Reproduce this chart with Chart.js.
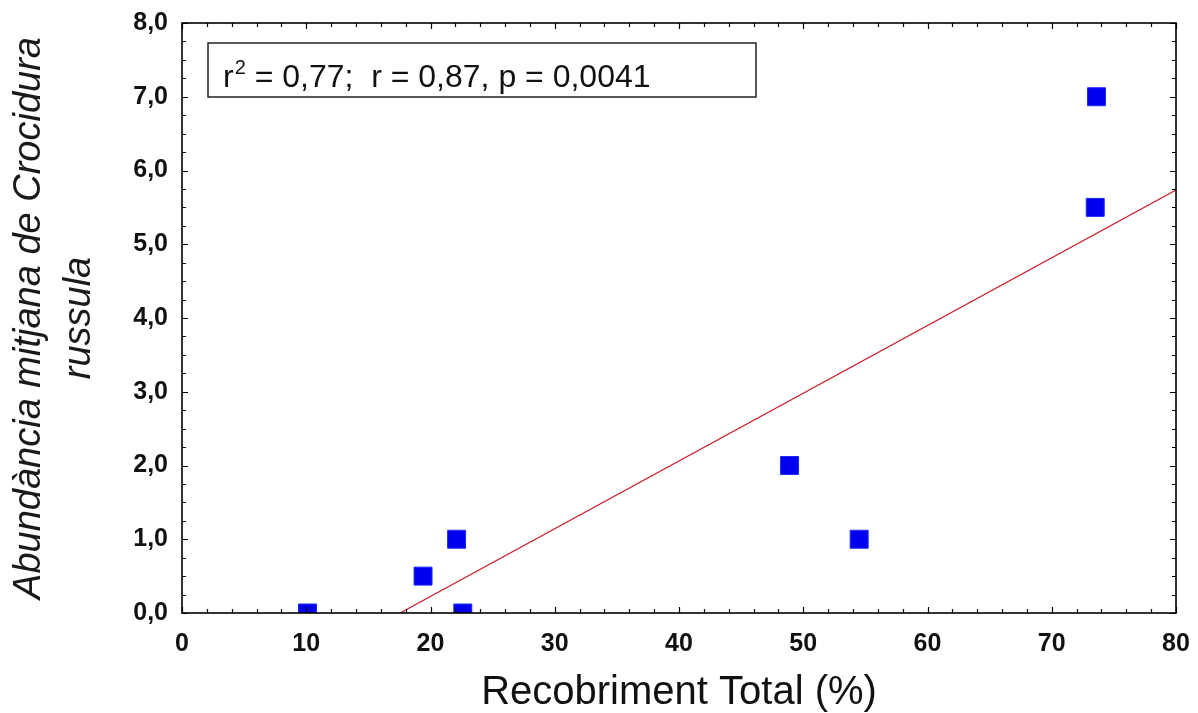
<!DOCTYPE html>
<html>
<head>
<meta charset="utf-8">
<script src="https://cdn.jsdelivr.net/npm/chart.js@4"></script>
<style>
  html, body { margin: 0; padding: 0; background: #fff; }
  #wrap { width: 1198px; height: 713px; }
</style>
</head>
<body>
<div id="wrap"><canvas id="c"></canvas></div>
<script>
// values
const coverX = [10.1, 19.4, 22.1, 22.6, 48.9, 54.5, 73.5, 73.6];
const abundY = [0, 0.5, 1.0, 0, 2.0, 1.0, 5.5, 7.0];
const fitX = [17.55, 80];
const fitY = [0, 5.735];
const xTickLabels = ['0', '10', '20', '30', '40', '50', '60', '70', '80'];
const yTickLabels = ['0,0', '1,0', '2,0', '3,0', '4,0', '5,0', '6,0', '7,0', '8,0'];

const FONT = "'Liberation Sans', Arial, sans-serif";
const INK = '#111111';
const BLUE = '#0000EE';
const RED = '#CC2233';

// box frame with inward major/minor ticks on all four sides
const frame = {
  id: 'frame',
  afterDraw(chart) {
    const { ctx, chartArea: a, scales: { x, y } } = chart;
    ctx.save();
    ctx.strokeStyle = '#000';
    ctx.lineWidth = 1.6;
    ctx.strokeRect(a.left, a.top, a.right - a.left, a.bottom - a.top);
    ctx.lineWidth = 1.2;
    ctx.beginPath();
    for (let v = 0; v <= 80; v += 2) {
      const px = Math.round(x.getPixelForValue(v)) + 0.5;
      const len = v % 10 === 0 ? 6 : 4;
      ctx.moveTo(px, a.bottom); ctx.lineTo(px, a.bottom - len);
      ctx.moveTo(px, a.top); ctx.lineTo(px, a.top + len);
    }
    for (let i = 0; i <= 32; i++) {
      const py = Math.round(y.getPixelForValue(i / 4)) + 0.5;
      const len = i % 4 === 0 ? 6 : 4;
      ctx.moveTo(a.left, py); ctx.lineTo(a.left + len, py);
      ctx.moveTo(a.right, py); ctx.lineTo(a.right - len, py);
    }
    ctx.stroke();
    ctx.restore();
  }
};

// statistics box in the upper left
const statsBox = {
  id: 'statsBox',
  afterDraw(chart) {
    const { ctx, chartArea: a } = chart;
    const bx = a.left + 26, by = a.top + 20, bw = 548, bh = 54;
    ctx.save();
    ctx.fillStyle = '#fff';
    ctx.fillRect(bx, by, bw, bh);
    ctx.strokeStyle = '#222';
    ctx.lineWidth = 1.5;
    ctx.strokeRect(bx, by, bw, bh);
    ctx.fillStyle = INK;
    ctx.textBaseline = 'alphabetic';
    const base = by + 44;
    let tx = bx + 15;
    ctx.font = '32px ' + FONT;
    ctx.fillText('r', tx, base);
    tx += ctx.measureText('r').width;
    ctx.font = '20px ' + FONT;
    ctx.fillText('2', tx + 1, base - 13);
    tx += ctx.measureText('2').width + 1;
    ctx.font = '32px ' + FONT;
    ctx.fillText(' = 0,77;  r = 0,87, p = 0,0041', tx, base);
    ctx.restore();
  }
};

new Chart(document.getElementById('c'), {
  type: 'scatter',
  data: {
    datasets: [
      {
        data: coverX.map((v, i) => ({ x: v, y: abundY[i] })),
        pointStyle: 'rect',
        pointRadius: 12.7,
        pointHoverRadius: 12.7,
        backgroundColor: BLUE,
        borderColor: '#1A2AF5',
        borderWidth: 1,
        clip: 0,
        order: 1
      },
      {
        type: 'line',
        data: fitX.map((v, i) => ({ x: v, y: fitY[i] })),
        borderColor: RED,
        borderWidth: 1.3,
        pointRadius: 0,
        fill: false,
        clip: 0,
        order: 2
      }
    ]
  },
  options: {
    responsive: true,
    maintainAspectRatio: false,
    animation: false,
    layout: { padding: { left: 0, top: 23, right: 22, bottom: 0 } },
    plugins: { legend: { display: false }, tooltip: { enabled: false } },
    scales: {
      x: {
        type: 'linear',
        min: 0, max: 80,
        afterFit: s => { s.height = 100; s.paddingLeft = 0; s.paddingRight = 0; },
        grid: { display: false, drawTicks: false },
        border: { display: false },
        ticks: {
          stepSize: 10,
          padding: 16,
          color: INK,
          font: { family: FONT, size: 25, weight: 'bold' },
          callback: (v) => xTickLabels[Math.round(v / 10)]
        },
        title: {
          display: true,
          text: 'Recobriment Total (%)',
          color: INK,
          font: { family: FONT, size: 40, lineHeight: 1.0 },
          padding: { top: 0, bottom: 0 }
        }
      },
      y: {
        type: 'linear',
        min: 0, max: 8,
        afterFit: s => { s.width = 182; s.paddingTop = 0; s.paddingBottom = 0; },
        grid: { display: false, drawTicks: false },
        border: { display: false },
        ticks: {
          stepSize: 1,
          padding: 14,
          color: INK,
          font: { family: FONT, size: 25, weight: 'bold' },
          callback: (v) => yTickLabels[Math.round(v)]
        },
        title: {
          display: true,
          text: ['Abundància mitjana de Crocidura', 'russula'],
          color: '#1a1a1a',
          font: { family: FONT, size: 38, style: 'italic', lineHeight: 1.3 },
          padding: { top: 5, bottom: 0 }
        }
      }
    }
  },
  plugins: [frame, statsBox]
});
</script>
</body>
</html>
